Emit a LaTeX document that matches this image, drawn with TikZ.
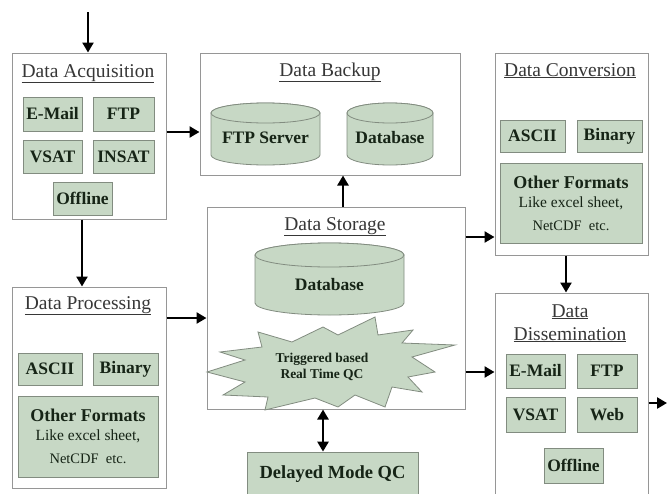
\documentclass[tikz,border=0pt]{standalone}
\usepackage{fontspec}
\setmainfont{Liberation Serif}
\usetikzlibrary{arrows.meta}
\definecolor{boxfill}{RGB}{199,216,197}
\definecolor{boxline}{RGB}{130,140,128}
\definecolor{outline}{RGB}{150,150,150}
\definecolor{txt}{RGB}{22,36,22}
\definecolor{ttl}{RGB}{55,55,55}
\newcommand{\dbcyl}[5]{%
  \filldraw[cylsty] (#1-#4,#2) -- (#1-#4,#3) arc[start angle=180,end angle=0,x radius=#4,y radius=#5] -- (#1+#4,#2) arc[start angle=0,end angle=-180,x radius=#4,y radius=#5] -- cycle;
  \filldraw[cylsty] (#1,#2) ellipse[x radius=#4, y radius=#5];
}
\tikzset{
  outerbox/.style={draw=outline, line width=1pt, fill=white, inner sep=0pt},
  ttlnode/.style={anchor=base, text=ttl, font=\fontsize{19.5}{22}\selectfont, inner sep=0pt},
  ibox/.style={draw=boxline, fill=boxfill, line width=0.8pt, inner sep=0pt, text=txt, font=\bfseries\fontsize{17.5}{19}\selectfont},
  cylsty/.style={draw=boxline, fill=boxfill, line width=0.8pt},
  cyltext/.style={text=txt, font=\bfseries\fontsize{17.5}{19}\selectfont, inner sep=0pt},
  arr/.style={line width=2.6pt, -{Triangle[length=10pt,width=11pt]}},
  darr/.style={line width=2.6pt, {Triangle[length=10pt,width=11pt]}-{Triangle[length=10pt,width=11pt]}},
}
\begin{document}
\begin{tikzpicture}[x=1pt,y=-1pt]
\clip (0,0) rectangle (667,493);
\fill[white] (0,0) rectangle (667,493);

% outer boxes
\node[outerbox, minimum width=154, minimum height=166] (acq) at (89,136) {};
\node[outerbox, minimum width=260, minimum height=122] (backup) at (330,114) {};
\node[outerbox, minimum width=153, minimum height=202] (conv) at (571.5,154) {};
\node[outerbox, minimum width=154, minimum height=201] (proc) at (89,387.5) {};
\node[outerbox, minimum width=258, minimum height=202] (stor) at (336,308) {};
\node[outerbox, minimum width=153, minimum height=207] (diss) at (571.5,396.5) {};

% titles
\node[ttlnode] (acqT) at (88,77) {\underline{Data Acquisition}};
\node[ttlnode] (backupT) at (330,76) {\underline{Data Backup}};
\node[ttlnode] (convT) at (570,76) {\underline{Data Conversion}};
\node[ttlnode] (procT) at (88,309) {\underline{Data Processing}};
\node[ttlnode] (storT) at (335,230) {\underline{Data Storage}};
\node[ttlnode] (dissT1) at (570,317) {\underline{Data}};
\node[ttlnode] (dissT2) at (570,340) {\underline{Dissemination}};

% acquisition items
\node[ibox, minimum width=59, minimum height=34] (email1) at (52.5,114) {E-Mail};
\node[ibox, minimum width=61, minimum height=34] (ftp1) at (123.5,114) {FTP};
\node[ibox, minimum width=59, minimum height=33] (vsat1) at (52.5,156.5) {VSAT};
\node[ibox, minimum width=61, minimum height=33] (insat) at (123.5,156.5) {INSAT};
\node[ibox, minimum width=59, minimum height=33] (offline1) at (82.5,198.5) {Offline};

% backup items
\dbcyl{265.5}{113}{155}{54.5}{10}
\node[cyltext] (ftpserver) at (265.5,138) {FTP Server};
\dbcyl{390}{113}{155}{43}{10}
\node[cyltext] (db1) at (390,138) {Database};

% conversion items
\node[ibox, minimum width=65, minimum height=32] (ascii2) at (532.5,136) {ASCII};
\node[ibox, minimum width=65, minimum height=32] (binary2) at (609.5,136) {Binary};
\node[ibox, minimum width=142, minimum height=80, align=center, font=\fontsize{15.5}{20}\selectfont] (other2) at (571,203)
  {{\bfseries\fontsize{18}{19}\selectfont Other Formats}\\[-1pt]Like excel sheet,\\[3pt]{\fontsize{14.5}{16}\selectfont NetCDF\ \ etc.}};

% processing items
\node[ibox, minimum width=64, minimum height=32] (ascii1) at (50,369) {ASCII};
\node[ibox, minimum width=65, minimum height=32] (binary1) at (125.5,369) {Binary};
\node[ibox, minimum width=140, minimum height=81, align=center, font=\fontsize{15.5}{20}\selectfont] (other1) at (88,436.5)
  {{\bfseries\fontsize{18}{19}\selectfont Other Formats}\\[-1pt]Like excel sheet,\\[3pt]{\fontsize{14.5}{16}\selectfont NetCDF\ \ etc.}};

% storage items
\dbcyl{329.5}{255}{303}{74.5}{12}
\node[cyltext] (db2) at (329.5,285) {Database};
\filldraw[cylsty] (207,372) -- (245,360) -- (220,352) -- (262,347) -- (258,332) -- (292,342) -- (323,327) -- (338,335) -- (375,317) -- (378,335) -- (413,330) -- (402,343) -- (455,345) -- (412,357) -- (435,372) -- (408,377) -- (422,392) -- (392,387) -- (385,407) -- (355,395) -- (338,407) -- (315,398) -- (265,410) -- (268,397) -- (223,395) -- (245,382) -- cycle;
\node[text=txt, font=\bfseries\fontsize{13.5}{16}\selectfont, align=center, inner sep=0pt] (rtqc) at (322,367) {Triggered based\\Real Time QC};

% dissemination items
\node[ibox, minimum width=59, minimum height=34] (email2) at (535.5,371) {E-Mail};
\node[ibox, minimum width=60, minimum height=34] (ftp2) at (607,371) {FTP};
\node[ibox, minimum width=59, minimum height=35] (vsat2) at (535.5,414.5) {VSAT};
\node[ibox, minimum width=60, minimum height=35] (web) at (607,414.5) {Web};
\node[ibox, minimum width=59, minimum height=35] (offline2) at (573.5,465.5) {Offline};

% delayed mode QC
\node[ibox, minimum width=171, minimum height=44, font=\bfseries\fontsize{18.5}{21}\selectfont] (delayed) at (332.5,474) {Delayed Mode QC};

% connectors
\coordinate (src) at (88,12);
\coordinate (out) at (667,403);
\draw[arr] (src) -- (acq.north -| src);
\draw[arr] (acq.east |- 0,132) -- (backup.west |- 0,132);
\draw[arr] (acq.south -| 82,0) -- (proc.north -| 82,0);
\draw[arr] (proc.east |- 0,318) -- (stor.west |- 0,318);
\draw[arr] (stor.north -| 343,0) -- (backup.south -| 343,0);
\draw[arr] (stor.east |- 0,237) -- (conv.west |- 0,237);
\draw[arr] (stor.east |- 0,372) -- (diss.west |- 0,372);
\draw[arr] (conv.south -| 566,0) -- (diss.north -| 566,0);
\draw[darr] (stor.south -| 323,0) -- (delayed.north -| 323,0);
\draw[arr] (diss.east |- out) -- (out);
\end{tikzpicture}
\end{document}
